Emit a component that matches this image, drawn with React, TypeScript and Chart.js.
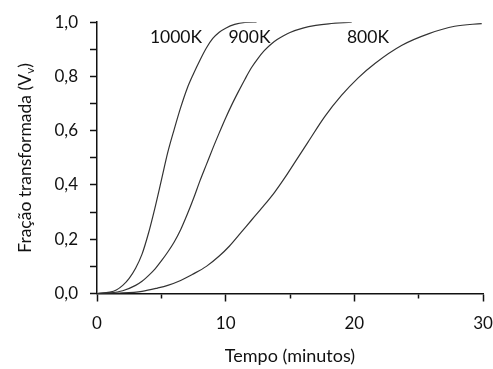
import { useEffect, useRef } from 'react';
import { Chart, registerables } from 'chart.js';

Chart.register(...registerables);

// ---- data (tempo em minutos, fração transformada) ----
const t1000 = [0, 1.0, 1.5, 2.0, 2.5, 3.0, 3.5, 4.0, 4.5, 5.0, 5.5, 6.0, 6.5, 7.0, 7.5, 8.0, 8.5, 9.0, 9.5, 10.0, 10.7, 11.5, 12.4];
const v1000 = [0, 0.005, 0.013, 0.03, 0.056, 0.093, 0.145, 0.222, 0.315, 0.417, 0.52, 0.605, 0.685, 0.755, 0.81, 0.86, 0.905, 0.94, 0.963, 0.978, 0.992, 0.999, 1.0];

const t900 = [0, 1, 2, 3, 3.5, 4, 4.5, 5, 5.5, 6, 6.5, 7, 7.5, 8, 8.5, 9, 9.5, 10, 10.5, 11, 11.5, 12, 12.5, 13, 13.5, 14, 14.5, 15, 16, 17, 18, 19.8];
const v900 = [0, 0.002, 0.01, 0.03, 0.045, 0.066, 0.09, 0.12, 0.153, 0.19, 0.235, 0.29, 0.35, 0.415, 0.475, 0.535, 0.592, 0.647, 0.698, 0.745, 0.79, 0.832, 0.866, 0.895, 0.918, 0.936, 0.95, 0.962, 0.978, 0.988, 0.994, 1.0];

const t800 = [0, 2.0, 3.5, 4.7, 5.5, 6.5, 7.4, 8.5, 9.5, 10.3, 11.2, 12.0, 12.9, 13.8, 14.6, 15.3, 16.4, 17.7, 19.0, 20.3, 21.6, 23.7, 25.8, 27.8, 29.9];
const v800 = [0, 0.002, 0.008, 0.02, 0.03, 0.048, 0.07, 0.1, 0.138, 0.175, 0.225, 0.27, 0.32, 0.373, 0.427, 0.478, 0.558, 0.652, 0.73, 0.795, 0.848, 0.915, 0.958, 0.985, 0.995];

const curveNames = ['1000K', '900K', '800K'];
const labelT = [6.14, 11.85, 21.06];
const labelV = [0.945, 0.945, 0.945];

const xMin = 0;
const xMax = 30;
const xStep = 5;
const xLabelEvery = 10;
const yMin = 0;
const yMax = 1;
const yStep = 0.1;

const xTitle = 'Tempo (minutos)';
const yTitleMain = 'Fração transformada (V';
const yTitleSub = 'v';
const yTitleEnd = ')';

const FONT = 'Lato, "Open Sans", sans-serif';
const INK = '#111111';
const LINE = '#333333';

const toPoints = (ts: number[], vs: number[]) => ts.map((t, i) => ({ x: t, y: vs[i] }));

const yTitlePlugin = {
  id: 'yTitleSub',
  afterDraw(chart: any) {
    const { ctx, chartArea } = chart;
    ctx.save();
    const cy = (chartArea.top + chartArea.bottom) / 2;
    ctx.translate(25, cy);
    ctx.rotate(-Math.PI / 2);
    ctx.fillStyle = INK;
    ctx.textBaseline = 'middle';
    ctx.textAlign = 'left';
    const big = `17.5px ${FONT}`;
    const small = `12px ${FONT}`;
    ctx.font = big;
    const w1 = ctx.measureText(yTitleMain).width;
    const w3 = ctx.measureText(yTitleEnd).width;
    ctx.font = small;
    const w2 = ctx.measureText(yTitleSub).width;
    const x0 = -(w1 + w2 + w3) / 2;
    ctx.font = big;
    ctx.fillText(yTitleMain, x0, 0);
    ctx.font = small;
    ctx.fillText(yTitleSub, x0 + w1, 5);
    ctx.font = big;
    ctx.fillText(yTitleEnd, x0 + w1 + w2, 0);
    ctx.restore();
  },
};

const curveLabelPlugin = {
  id: 'curveLabels',
  afterDatasetsDraw(chart: any) {
    const { ctx, scales } = chart;
    ctx.save();
    ctx.fillStyle = INK;
    ctx.font = `17.5px ${FONT}`;
    ctx.textAlign = 'center';
    ctx.textBaseline = 'middle';
    curveNames.forEach((name, i) => {
      const x = scales.x.getPixelForValue(labelT[i]);
      const y = scales.y.getPixelForValue(labelV[i]);
      ctx.fillText(name, x, y);
    });
    ctx.restore();
  },
};

const bgPlugin = {
  id: 'whiteBg',
  beforeDraw(chart: any) {
    const { ctx, width, height } = chart;
    ctx.save();
    ctx.fillStyle = '#ffffff';
    ctx.fillRect(0, 0, width, height);
    ctx.restore();
  },
};

export default function App() {
  const ref = useRef<HTMLCanvasElement>(null);

  useEffect(() => {
    if (!ref.current) return;
    const lineDs = (data: { x: number; y: number }[]) => ({
      data,
      borderColor: LINE,
      borderWidth: 1.2,
      pointRadius: 0,
      fill: false,
      cubicInterpolationMode: 'monotone' as const,
    });
    const chart = new Chart(ref.current, {
      type: 'line',
      data: {
        datasets: [
          lineDs(toPoints(t1000, v1000)),
          lineDs(toPoints(t900, v900)),
          lineDs(toPoints(t800, v800)),
        ],
      },
      options: {
        animation: false,
        responsive: false,
        maintainAspectRatio: false,
        layout: { padding: { top: 18.5, right: 10, bottom: 0, left: 0 } },
        plugins: { legend: { display: false }, tooltip: { enabled: false }, title: { display: false } },
        scales: {
          x: {
            type: 'linear',
            min: xMin,
            max: xMax,
            afterFit: (s: any) => {
              s.height = 75.5;
              s.paddingRight = 0;
              s.paddingLeft = 0;
            },
            border: { display: true, color: INK, width: 1.5 },
            grid: {
              drawOnChartArea: false,
              drawTicks: true,
              tickLength: 8,
              color: INK,
              tickColor: INK,
              tickWidth: 1.5,
              tickBorderDash: (c: any) => (c.tick && c.tick.value % xLabelEvery !== 0 ? [4, 40] : []),
            },
            ticks: {
              stepSize: xStep,
              color: INK,
              padding: 12,
              maxRotation: 0,
              autoSkip: false,
              font: { family: FONT, size: 17 },
              callback: (v: any) => (Number(v) % xLabelEvery === 0 ? String(v) : ''),
            },
            title: {
              display: true,
              text: xTitle,
              color: INK,
              font: { family: FONT, size: 18 },
              padding: { top: 0, bottom: 2 },
            },
          },
          y: {
            type: 'linear',
            min: yMin,
            max: yMax,
            afterFit: (s: any) => { s.width = 97; },
            border: { display: true, color: INK, width: 1.5 },
            grid: {
              drawOnChartArea: false,
              drawTicks: true,
              tickLength: 7,
              color: INK,
              tickColor: INK,
              tickWidth: 1.5,
            },
            ticks: {
              stepSize: yStep,
              color: INK,
              padding: 12,
              autoSkip: false,
              font: { family: FONT, size: 17 },
              callback: (v: any) => {
                const n = Math.round(Number(v) * 10);
                return n % 2 === 0 ? (n / 10).toFixed(1).replace('.', ',') : '';
              },
            },
          },
        },
      },
      plugins: [bgPlugin, curveLabelPlugin, yTitlePlugin],
    });
    return () => chart.destroy();
  }, []);

  return (
    <div style={{ position: 'fixed', left: 0, top: 0, width: 493, height: 369, background: '#fff' }}>
      <canvas ref={ref} width={493} height={369} style={{ display: 'block', width: 493, height: 369 }} />
    </div>
  );
}
